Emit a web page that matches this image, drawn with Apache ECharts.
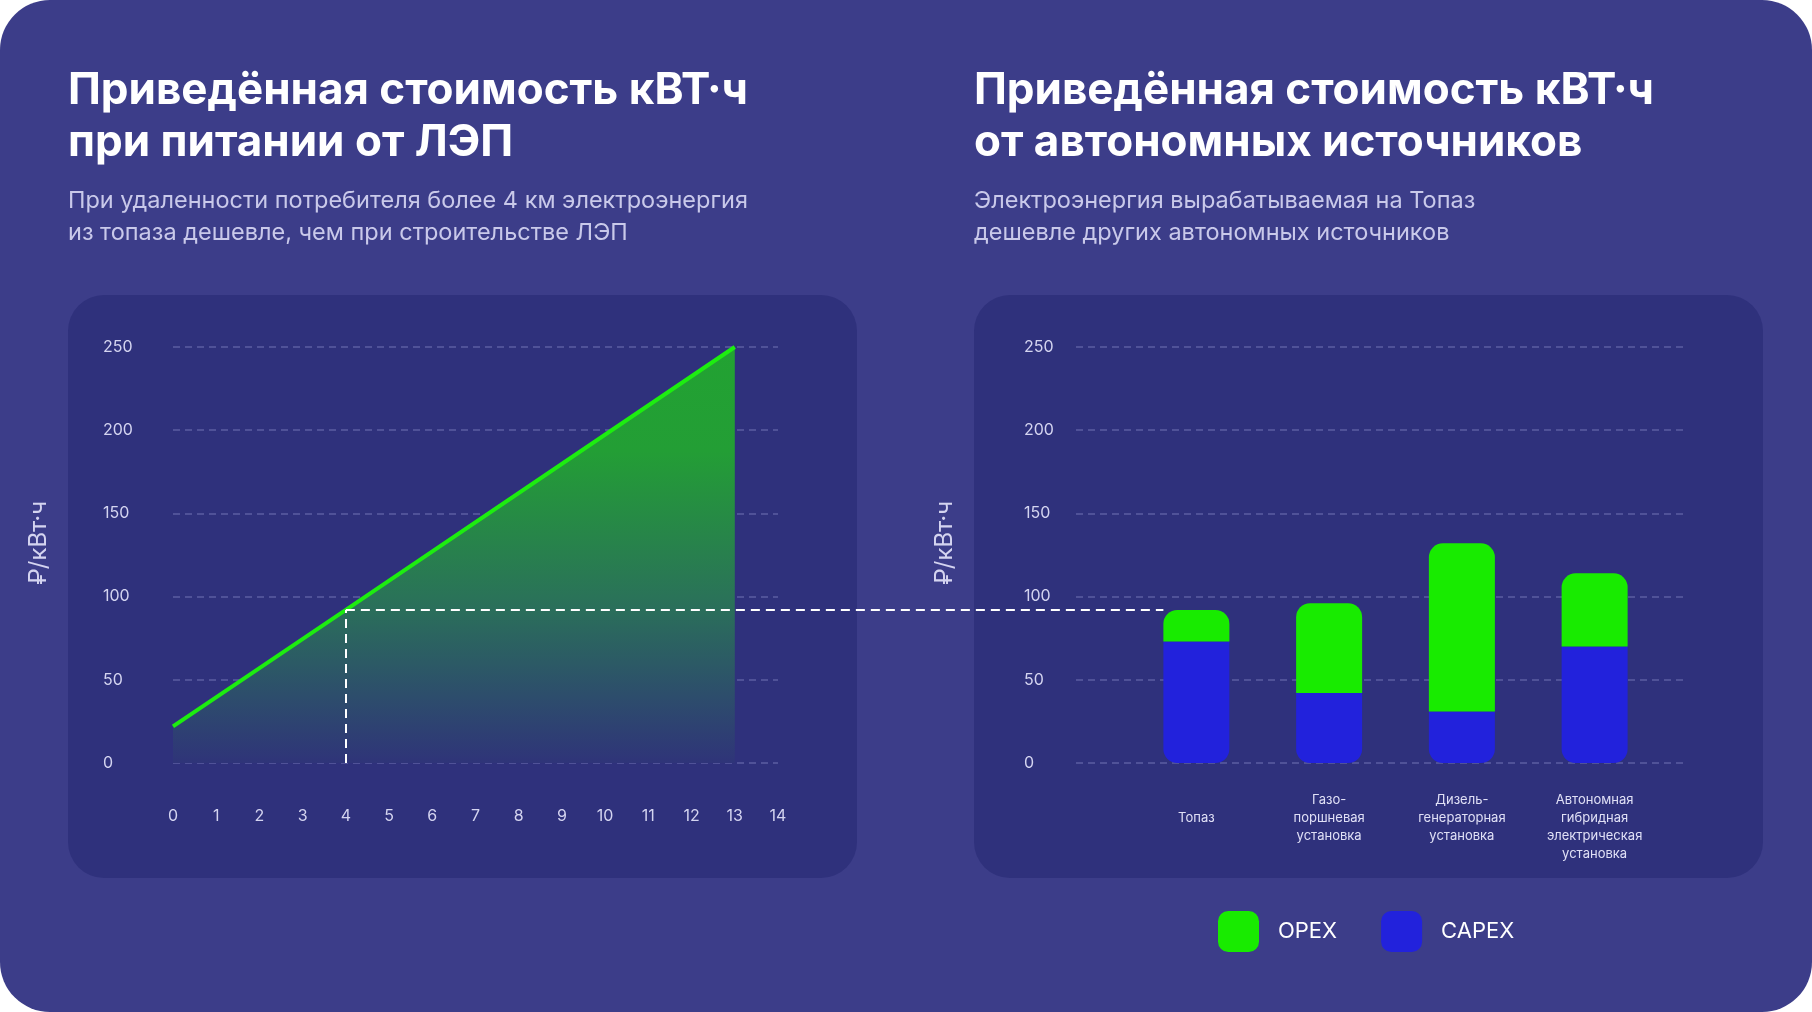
<!DOCTYPE html>
<html>
<head>
<meta charset="utf-8">
<script src="https://cdn.jsdelivr.net/npm/echarts@6/dist/echarts.min.js"></script>
<style>
    html, body { margin: 0; padding: 0; background: #ffffff; }
    #main { width: 1812px; height: 1012px; }
</style>
</head>
<body>
<div id="main"></div>
<script>
// левый график: стоимость при питании от ЛЭП
var distanceKm = [0, 4, 13];
var lepCost = [22, 92, 250];
var crossKm = 4;
var crossCost = 92;

// правый график: автономные источники
var sources = ['Топаз', 'Газо-\nпоршневая\nустановка', 'Дизель-\nгенераторная\nустановка', 'Автономная\nгибридная\nэлектрическая\nустановка'];
var capex = [73, 42, 31, 70];
var opex = [19, 54, 101, 44];

var yTicks = [0, 50, 100, 150, 200, 250];
var xTicks = [0, 1, 2, 3, 4, 5, 6, 7, 8, 9, 10, 11, 12, 13, 14];

var bgColor = '#3c3d89';
var panelColor = '#2f317c';
var gridColor = 'rgba(190,190,240,0.32)';
var labelColor = '#d4d4f0';
var font = 'Inter, "Noto Sans", sans-serif';

var lineData = [];
for (var i = 0; i < distanceKm.length; i++) {
    lineData.push([distanceKm[i], lepCost[i]]);
}

var myChart = echarts.init(document.getElementById('main'));

function valueYAxis(gridIndex, showLabels, margin) {
    return {
        type: 'value',
        gridIndex: gridIndex,
        min: yTicks[0],
        max: yTicks[yTicks.length - 1],
        interval: 50,
        axisLine: { show: false },
        axisTick: { show: false },
        axisLabel: {
            show: showLabels,
            color: labelColor,
            fontSize: 16,
            fontFamily: font,
            align: 'left',
            margin: margin
        },
        splitLine: {
            show: showLabels,
            lineStyle: { color: gridColor, type: [7, 5], width: 1.5 }
        }
    };
}

function axisName(x, y) {
    return {
        type: 'text', x: x, y: y, rotation: Math.PI / 2,
        style: { text: '₽/кВт·ч', fill: labelColor, font: '24px ' + font, align: 'center', verticalAlign: 'middle' }
    };
}

var option = {
    backgroundColor: '#ffffff',
    animation: false,
    textStyle: { fontFamily: font },
    graphic: [
        // фон карточки
        { type: 'rect', z: -10, shape: { x: 0, y: 0, width: 1812, height: 1012, r: 50 }, style: { fill: bgColor } },
        { type: 'rect', z: -9, shape: { x: 68, y: 295, width: 789, height: 583, r: 36 }, style: { fill: panelColor } },
        { type: 'rect', z: -9, shape: { x: 974, y: 295, width: 789, height: 583, r: 36 }, style: { fill: panelColor } },
        // заголовки
        {
            type: 'text', left: 68, top: 65,
            style: { text: 'Приведённая стоимость кВТ·ч\nпри питании от ЛЭП', fill: '#ffffff', font: 'bold 44px ' + font, lineHeight: 52 }
        },
        {
            type: 'text', left: 68, top: 185,
            style: { text: 'При удаленности потребителя более 4 км электроэнергия\nиз топаза дешевле, чем при строительстве ЛЭП', fill: '#c9c9ea', font: '23.5px ' + font, lineHeight: 32 }
        },
        {
            type: 'text', left: 974, top: 65,
            style: { text: 'Приведённая стоимость кВТ·ч\nот автономных источников', fill: '#ffffff', font: 'bold 44px ' + font, lineHeight: 52 }
        },
        {
            type: 'text', left: 974, top: 185,
            style: { text: 'Электроэнергия вырабатываемая на Топаз\nдешевле других автономных источников', fill: '#c9c9ea', font: '23.5px ' + font, lineHeight: 32 }
        },
        axisName(39, 543),
        axisName(945, 543)
    ],
    legend: {
        data: ['OPEX', 'CAPEX'],
        left: 1218,
        top: 911,
        padding: 0,
        icon: 'roundRect',
        itemWidth: 41,
        itemHeight: 41,
        itemGap: 44,
        textStyle: { color: '#ffffff', fontSize: 22, fontFamily: font, padding: [0, 0, 0, 14] }
    },
    grid: [
        { left: 173, right: 1034, top: 347, bottom: 249 },
        { left: 1076, right: 128, top: 347, bottom: 249 },
        { left: 1130, right: 151, top: 347, bottom: 249 }
    ],
    xAxis: [
        {
            type: 'value', gridIndex: 0, min: xTicks[0], max: xTicks[xTicks.length - 1], interval: 1,
            axisLine: { show: false }, axisTick: { show: false }, splitLine: { show: false },
            axisLabel: { color: labelColor, fontSize: 16, fontFamily: font, margin: 45 }
        },
        { type: 'value', gridIndex: 1, show: false },
        {
            type: 'category', gridIndex: 2, data: sources,
            axisLine: { show: false }, axisTick: { show: false },
            axisLabel: {
                color: '#e0e0f6', fontSize: 13, fontFamily: font, lineHeight: 18, margin: 28, verticalAlign: 'top', interval: 0,
                formatter: function (value, index) {
                    return index === 0 ? '\n' + value : value;
                }
            }
        }
    ],
    yAxis: [
        valueYAxis(0, true, 70),
        valueYAxis(1, true, 52),
        valueYAxis(2, false, 0)
    ],
    series: [
        {
            name: 'ЛЭП',
            type: 'line',
            xAxisIndex: 0,
            yAxisIndex: 0,
            data: lineData,
            showSymbol: false,
            lineStyle: { color: '#1ded10', width: 4 },
            areaStyle: {
                origin: 'start',
                opacity: 1,
                color: new echarts.graphic.LinearGradient(0, 0, 0, 1, [
                    { offset: 0, color: '#22a232' },
                    { offset: 0.25, color: '#239e35' },
                    { offset: 0.6, color: '#2a7358' },
                    { offset: 1, color: '#2f3479' }
                ])
            },
            markLine: {
                silent: true,
                symbol: 'none',
                label: { show: false },
                lineStyle: { color: '#ffffff', type: [9, 6], width: 2 },
                data: [[{ coord: [crossKm, 0] }, { coord: [crossKm, crossCost] }]]
            }
        },
        {
            name: 'CAPEX',
            type: 'bar',
            xAxisIndex: 2,
            yAxisIndex: 2,
            stack: 'cost',
            barWidth: 66,
            data: capex,
            itemStyle: { color: '#2222dc', borderRadius: [0, 0, 14, 14] }
        },
        {
            name: 'OPEX',
            type: 'bar',
            xAxisIndex: 2,
            yAxisIndex: 2,
            stack: 'cost',
            barWidth: 66,
            data: opex,
            itemStyle: { color: '#18eb00', borderRadius: [14, 14, 0, 0] }
        }
    ]
};

myChart.setOption(option);

// пунктир от точки пересечения до столбца Топаз
var p1 = myChart.convertToPixel({ gridIndex: 0 }, [crossKm, crossCost]);
var barCenter = myChart.convertToPixel({ xAxisIndex: 2, yAxisIndex: 2 }, [sources[0], crossCost]);
var graphics = option.graphic.slice();
graphics.push({
    type: 'line',
    z: 50,
    shape: { x1: p1[0], y1: p1[1], x2: barCenter[0] - 33, y2: p1[1] },
    style: { stroke: '#ffffff', lineWidth: 2, lineDash: [9, 6] }
});
myChart.setOption({ graphic: graphics }, { replaceMerge: ['graphic'] });
</script>
</body>
</html>
